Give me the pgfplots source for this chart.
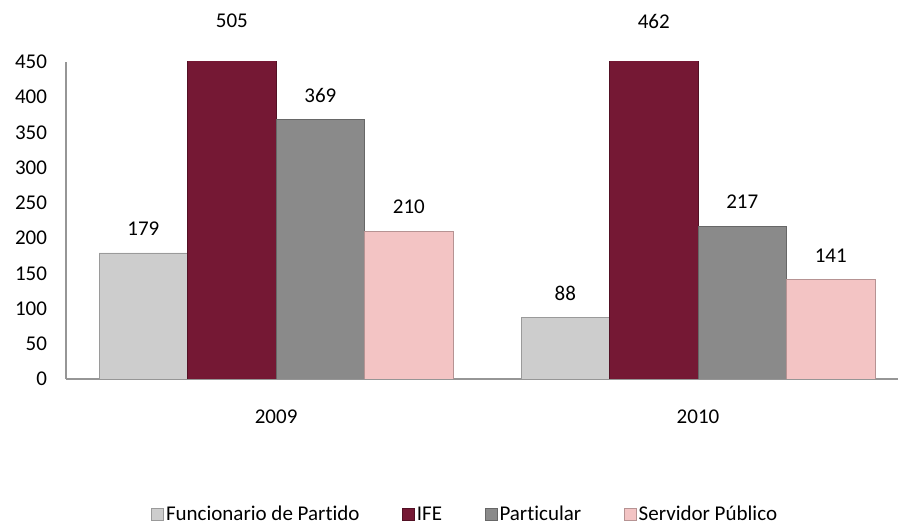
\documentclass[border=0pt]{standalone}
\usepackage{fontspec}
\setmainfont{Carlito}[Ligatures=NoCommon]
\usepackage{pgfplots}
\pgfplotsset{compat=1.18}
\definecolor{cFun}{RGB}{205,205,205}
\definecolor{cIFE}{RGB}{117,24,52}
\definecolor{cPar}{RGB}{138,138,138}
\definecolor{cSer}{RGB}{243,196,196}
\definecolor{axgray}{RGB}{150,150,150}
\newcommand{\chartfont}{\fontsize{21}{25}\selectfont}
\pgfplotsset{
  mybar/.style={ybar, bar width=88.5pt, bar shift=#1,
    nodes near coords,
    every node near coord/.append style={anchor=center, xshift=#1, yshift=24pt, black, font=\chartfont},
    legend image code/.code={\draw[##1] (0pt,-6pt) rectangle (12pt,6pt);}},
}
\begin{document}
\begin{tikzpicture}
\useasboundingbox (0,0) rectangle (898pt,526pt);
\begin{axis}[
  at={(66pt,147pt)}, anchor=south west,
  scale only axis, width=832pt, height=317pt,
  xmin=-0.498, xmax=1.474, ymin=0, ymax=450,
  clip mode=individual,
  axis x line*=bottom, axis y line*=left,
  axis line style={axgray, line width=1.2pt, -},
  xtick={0,1}, xticklabels={2009,2010},
  ytick={0,50,...,450},
  major tick length=0pt,
  tick style={draw=none},
  tick label style={font=\chartfont},
  /pgf/number format/assume math mode=true,
  yticklabel style={xshift=-15.5pt},
  xticklabel style={yshift=-27pt},
  legend columns=4,
  legend style={draw=none, at={(0.480,-0.426)}, anchor=center,
    font=\chartfont, nodes={inner sep=2.5pt},
    /tikz/every even column/.append style={column sep=40pt}},
]
\addplot[mybar=-132.75pt, fill=cFun, draw=cFun!75!black] coordinates {(0,179) (1,88)};
\addlegendentry{Funcionario de Partido}
\addplot[mybar=-44.25pt, fill=cIFE, draw=cIFE!70!black, nodes near coords=\empty] coordinates {(0,505) (1,462)};
\addlegendentry{IFE}
\addplot[mybar=44.25pt, fill=cPar, draw=cPar!75!black] coordinates {(0,369) (1,217)};
\addlegendentry{Particular}
\addplot[mybar=132.75pt, fill=cSer, draw=cSer!75!black] coordinates {(0,210) (1,141)};
\addlegendentry{Servidor Público}
\addplot[draw=none, forget plot, clip=false, nodes near coords, point meta=explicit symbolic,
  every node near coord/.append style={anchor=center, black, font=\chartfont}]
  coordinates {(-0.1049,508) [505] (0.8951,508) [462]};
\end{axis}
\end{tikzpicture}
\end{document}
